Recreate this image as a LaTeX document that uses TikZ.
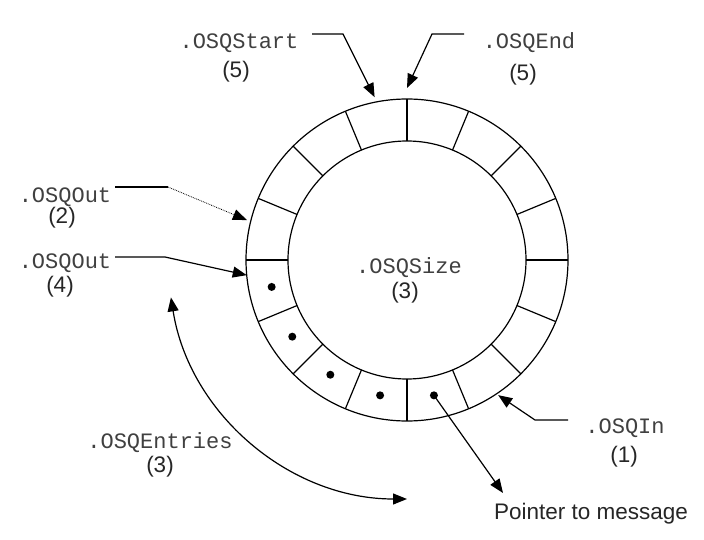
\documentclass[tikz,border=0pt]{standalone}
\usepackage{fontspec}
\setmainfont{Liberation Sans}
\newfontfamily\courfont{Liberation Mono}
\usetikzlibrary{arrows.meta,calc}

\tikzset{
  field/.style={font=\courfont\fontsize{22}{26}\selectfont, text=black!75, inner sep=0pt},
  count/.style={font=\fontsize{22.5}{27}\selectfont, text=black!85, inner sep=0pt},
  ring/.style={line width=1.2pt},
  ptr/.style={line width=1.2pt, -{Triangle[length=14pt,width=11pt]}},
  both/.style={line width=1.2pt, {Triangle[length=14pt,width=11pt]}-{Triangle[length=14pt,width=11pt]}},
}

\begin{document}
\begin{tikzpicture}[x=1pt,y=-1pt]
\useasboundingbox (0,0) rectangle (704,540);
\coordinate (c) at (407,260);

% the queue ring, 16 slots
\draw[ring] (c) circle[radius=161];
\draw[ring] (c) circle[radius=119];
\foreach \a in {22.5,45,...,337.5}
  \draw[ring] ($(c)+(\a:119)$) -- ($(c)+(\a:161)$);
\foreach \a in {0,90,180,270}
  \draw[line width=2pt] ($(c)+(\a:119)$) -- ($(c)+(\a:161)$);

% used slots
\foreach \a in {78.75,101.25,123.75,146.25,168.75}
  \fill ($(c)+(\a:138)$) circle[radius=4];
\coordinate (msg) at ($(c)+(78.75:138)$);

% labels
\node[field] (sizelbl) at (409,268) {.OSQSize};
\node[count] (sizenum) at (405,293) {(3)};

\node[field] (startlbl) at (239,43) {.OSQStart};
\node[count] (startnum) at (236,72) {(5)};

\node[field] (endlbl) at (529,43) {.OSQEnd};
\node[count] (endnum) at (523,75) {(5)};

\node[field] (out2lbl) at (65,197) {.OSQOut};
\node[count] (out2num) at (62,218) {(2)};

\node[field] (out4lbl) at (65,263) {.OSQOut};
\node[count] (out4num) at (60,287) {(4)};

\node[field] (entrieslbl) at (160,443) {.OSQEntries};
\node[count] (entriesnum) at (160,467) {(3)};

\node[field] (inlbl) at (625,428) {.OSQIn};
\node[count] (innum) at (624,457) {(1)};

\node[count] (msglbl) at (591,514) {Pointer to message};

% pointers into the ring
\coordinate (startA) at (312,34);
\coordinate (startB) at (343,34);
\coordinate (startT) at ($(c)+(258.75:166)$);
\draw[ptr] (startA) -- (startB) -- (startT);

\coordinate (endA) at (464,34);
\coordinate (endB) at (432,34);
\coordinate (endT) at ($(c)+(270:172)$);
\draw[ptr] (endA) -- (endB) -- (endT);

\coordinate (out2A) at (115,187);
\coordinate (out2B) at (168,187);
\coordinate (out2T) at ($(c)+(194:165)$);
\draw[ring] (out2A) -- (out2B);
\draw[ptr, line width=0.8pt, densely dotted] (out2B) -- (out2T);

\coordinate (out4A) at (115,257);
\coordinate (out4B) at (165,257);
\coordinate (out4T) at ($(c)+(174.6:161)$);
\draw[ptr] (out4A) -- (out4B) -- (out4T);

\coordinate (inA) at (568,420);
\coordinate (inB) at (535,420);
\coordinate (inT) at ($(c)+(56:163)$);
\draw[ptr] (inA) -- (inB) -- (inT);

\coordinate (msgT) at (503,493);
\draw[ptr] (msg) -- (msgT);

% entries span
\draw[both] ($(c)+(171:239)$) arc[start angle=171, end angle=90, radius=239];

\end{tikzpicture}
\end{document}
